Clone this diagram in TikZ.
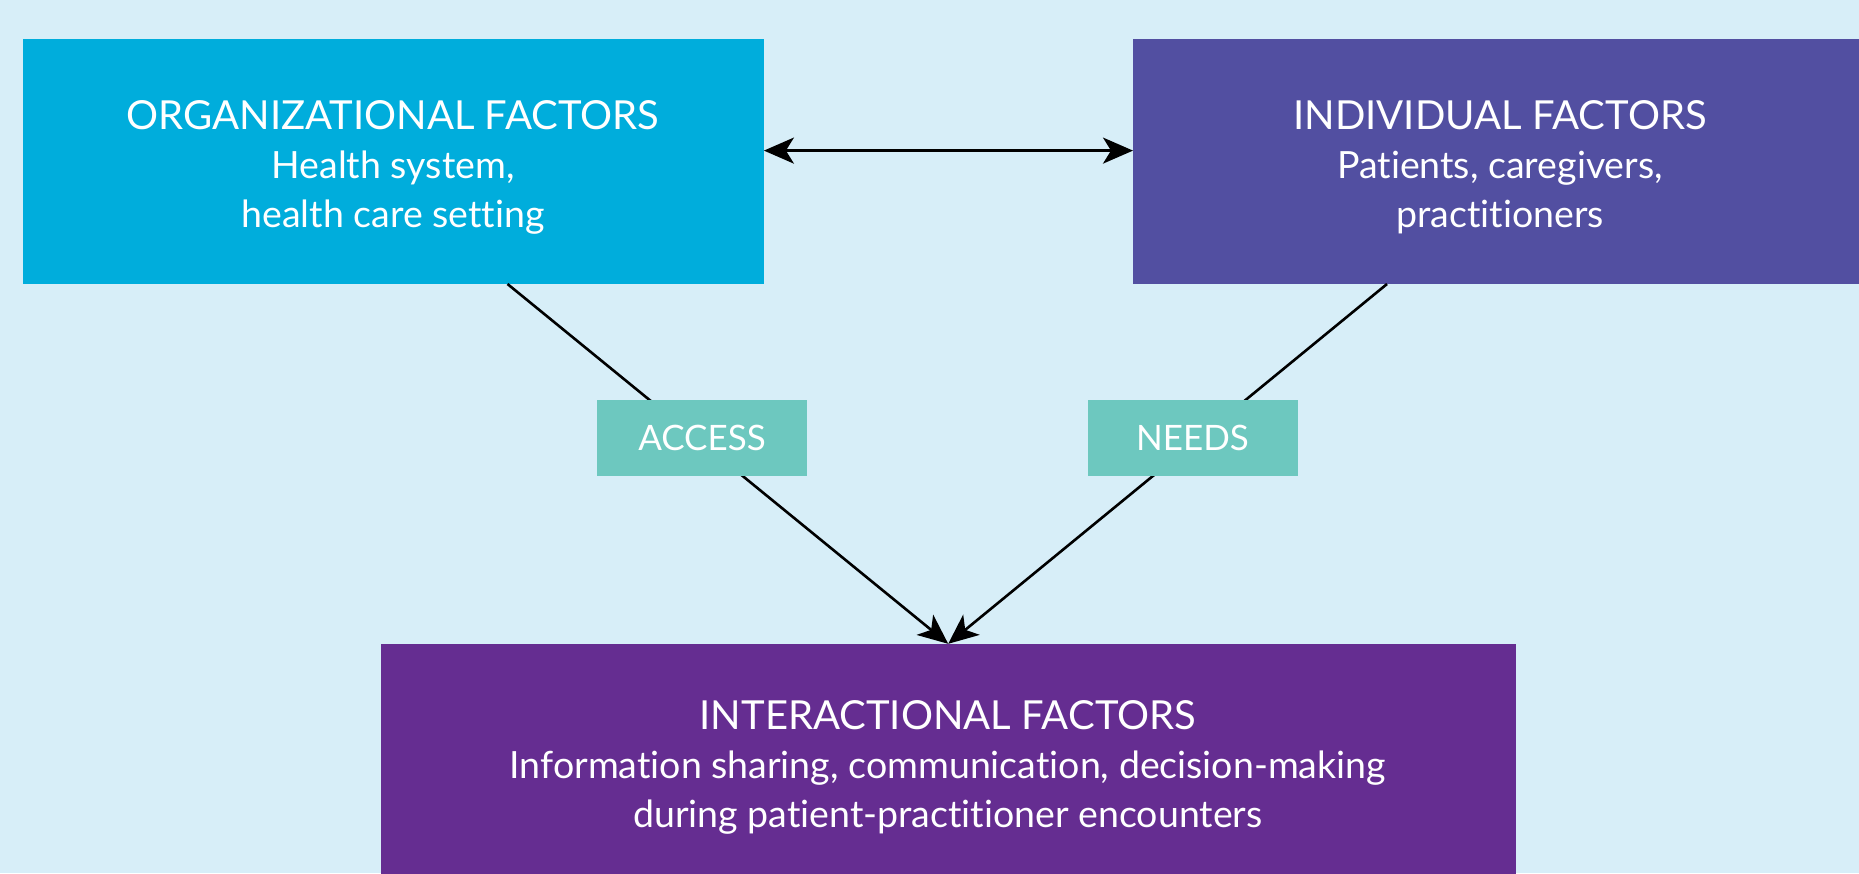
\documentclass[tikz,border=0pt]{standalone}
\usepackage{fontspec}
\setmainfont{Lato}[Ligatures=NoCommon]
\usetikzlibrary{arrows.meta}
\definecolor{bgblue}{HTML}{D7EEF8}
\definecolor{orgblue}{HTML}{00ADDC}
\definecolor{indpurple}{HTML}{524FA1}
\definecolor{intpurple}{HTML}{652D91}
\definecolor{tagteal}{HTML}{6DC8BF}
\newcommand{\headline}[1]{{\fontsize{40}{49}\selectfont #1}}
\tikzset{
  bigtip/.tip={Stealth[length=30pt, width=26pt, inset=8pt]},
  factorbox/.style={draw=none, inner sep=0pt, anchor=north west},
  tagbox/.style={fill=tagteal, draw=none, minimum width=210pt, minimum height=76pt,
    inner sep=0pt, text=white, font=\fontsize{35}{40}\selectfont},
  boxtext/.style={text=white, align=center, inner sep=0pt,
    font=\fontsize{37.5}{49}\selectfont},
  link/.style={line width=2.6pt, -{bigtip}},
  biglink/.style={line width=2.6pt, {bigtip}-{bigtip}}
}
\begin{document}
\begin{tikzpicture}[x=1pt, y=-1pt]
  \fill[bgblue] (0,0) rectangle (1859,873);
  \useasboundingbox (0,0) rectangle (1859,873);

  % the three factor boxes
  \node[factorbox, fill=orgblue, minimum width=741pt, minimum height=245pt] (org) at (22.5,39) {};
  \node[factorbox, fill=indpurple, minimum width=726pt, minimum height=245pt] (ind) at (1133,39) {};
  \node[factorbox, fill=intpurple, minimum width=1135pt, minimum height=230pt] (inter) at (380.5,643.8) {};

  \node[boxtext] (orgtxt) at (393,167)
    {\headline{ORGANIZATIONAL FACTORS}\\Health system,\\health care setting};
  \node[boxtext] (indtxt) at (1500,167)
    {\headline{INDIVIDUAL FACTORS}\\Patients, caregivers,\\practitioners};
  \node[boxtext] (inttxt) at (947.8,767)
    {\headline{INTERACTIONAL FACTORS}\\Information sharing, communication, decision-making\\during patient-practitioner encounters};

  % feet of the diagonal links on the lower edges of the top boxes
  \coordinate (orgfoot) at (507.5,284);
  \coordinate (indfoot) at (1387,284);

  \draw[biglink] (org.east |- 0,150.6) -- (ind.west |- 0,150.6);
  \draw[link] (orgfoot) -- (inter.north);
  \draw[link] (indfoot) -- (inter.north);

  % labels sitting on the links
  \node[tagbox] (access) at (702,437.5) {ACCESS};
  \node[tagbox] (needs) at (1192.5,437.5) {NEEDS};
\end{tikzpicture}
\end{document}
